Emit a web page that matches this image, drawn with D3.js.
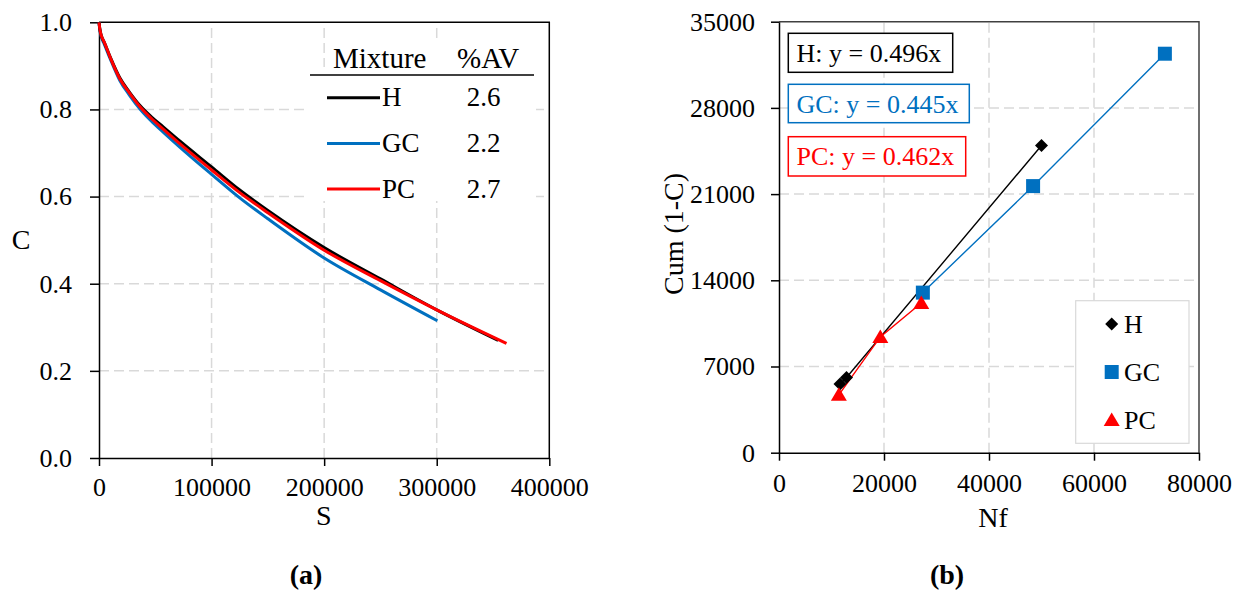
<!DOCTYPE html>
<html><head><meta charset="utf-8">
<script src="https://cdn.jsdelivr.net/npm/d3@7"></script>
<style>body{margin:0;background:#fff}svg{display:block}text{font-family:"Liberation Serif","Times New Roman",serif}</style>
</head><body><svg id="c" width="1243" height="593"></svg>
<script>
// ---- Panel (a) data ----
const hS = [0, 700, 2000, 4700, 10000, 18600, 27000, 36400, 47000, 57000, 72000, 100000, 125000, 150000, 200000, 250000, 300000, 354600];
const hC = [1.000, 0.985, 0.970, 0.954, 0.920, 0.872, 0.840, 0.809, 0.782, 0.760, 0.727, 0.668, 0.615, 0.568, 0.483, 0.411, 0.340, 0.270];
const gcS = [0, 700, 2000, 4700, 10000, 18600, 27000, 36400, 47000, 57000, 72000, 100000, 125000, 150000, 200000, 250000, 300600];
const gcC = [1.000, 0.983, 0.967, 0.950, 0.916, 0.866, 0.833, 0.801, 0.772, 0.748, 0.713, 0.651, 0.597, 0.549, 0.459, 0.386, 0.315];
const pcS = [0, 700, 2000, 4700, 10000, 18600, 27000, 36400, 47000, 57000, 72000, 100000, 125000, 150000, 200000, 250000, 300000, 362000];
const pcC = [1.000, 0.985, 0.970, 0.954, 0.919, 0.870, 0.838, 0.806, 0.778, 0.755, 0.721, 0.661, 0.609, 0.563, 0.477, 0.407, 0.340, 0.263];
const mixtures = ["H", "GC", "PC"];
const avValues = ["2.6", "2.2", "2.7"];
const xTicksA = [0, 100000, 200000, 300000, 400000];
const yTicksA = [0, 0.2, 0.4, 0.6, 0.8, 1.0];

// ---- Panel (b) data ----
const hNf = [11620, 12860, 50000];
const hCum = [5580, 6110, 24950];
const gcNf = [27400, 48400, 73500];
const gcCum = [13000, 21650, 32400];
const pcNf = [11400, 19300, 27100];
const pcCum = [4700, 9400, 12150];
const equations = ["H: y = 0.496x", "GC: y = 0.445x", "PC: y = 0.462x"];
const xTicksB = [0, 20000, 40000, 60000, 80000];
const yTicksB = [0, 7000, 14000, 21000, 28000, 35000];

const colors = {H: "#000000", GC: "#0070C0", PC: "#FF0000"};
const FONT = "Liberation Serif, Times New Roman, serif";
const svg = d3.select("#c");
const zip = (a, b) => a.map((v, i) => [v, b[i]]);

function styleAxis(g) {
  g.attr("font-family", FONT).attr("font-size", 26);
  g.select(".domain").attr("stroke", "#000").attr("stroke-width", 1.5);
  g.selectAll(".tick line").attr("stroke", "#000").attr("stroke-width", 1.5);
  g.selectAll(".tick text").attr("fill", "#000");
}
function grid(xs, ys, xv, yv) {
  const g = svg.append("g").attr("stroke", "#d9d9d9").attr("stroke-width", 1.5).attr("stroke-dasharray", "10,5");
  xv.forEach(v => g.append("line").attr("x1", xs(v)).attr("x2", xs(v)).attr("y1", ys.range()[0]).attr("y2", ys.range()[1]));
  yv.forEach(v => g.append("line").attr("y1", ys(v)).attr("y2", ys(v)).attr("x1", xs.range()[0]).attr("x2", xs.range()[1]));
}

// ================= Panel (a) =================
const xa = d3.scaleLinear().domain([0, 400000]).range([99, 549.3]);
const ya = d3.scaleLinear().domain([0, 1]).range([458, 22.3]);
grid(xa, ya, xTicksA.slice(1, -1), yTicksA.slice(1, -1));
svg.append("path").attr("d", `M${xa(0)},${ya(1)}H${xa(400000)}V${ya(0)}`).attr("fill", "none").attr("stroke", "#000").attr("stroke-width", 1.5);
svg.append("g").attr("transform", `translate(0,${ya(0)})`)
  .call(d3.axisBottom(xa).tickValues(xTicksA).tickSize(8).tickSizeOuter(0).tickPadding(12).tickFormat(d3.format("d")))
  .call(styleAxis);
svg.append("g").attr("transform", `translate(${xa(0)},0)`)
  .call(d3.axisLeft(ya).tickValues(yTicksA).tickSize(9).tickSizeOuter(0).tickPadding(18).tickFormat(d3.format(".1f")))
  .call(styleAxis);

const lineA = d3.line().x(d => xa(d[0])).y(d => ya(d[1])).curve(d3.curveMonotoneX);
[["GC", zip(gcS, gcC)], ["H", zip(hS, hC)], ["PC", zip(pcS, pcC)]].forEach(([k, d]) => {
  svg.append("path").datum(d).attr("d", lineA).attr("fill", "none").attr("stroke", colors[k]).attr("stroke-width", 3).attr("stroke-linejoin", "round");
});

// legend table (a)
svg.append("rect").attr("x", 309).attr("y", 67).attr("width", 227).attr("height", 134).attr("fill", "#fff");
svg.append("rect").attr("x", 328).attr("y", 40).attr("width", 208).attr("height", 28).attr("fill", "#fff");
svg.append("text").attr("x", 333).attr("y", 68).attr("font-size", 29).text("Mixture");
svg.append("text").attr("x", 457).attr("y", 68).attr("font-size", 29).text("%AV");
svg.append("line").attr("x1", 310).attr("x2", 534).attr("y1", 75).attr("y2", 75).attr("stroke", "#000").attr("stroke-width", 1.5);
mixtures.forEach((m, i) => {
  const y = 97.7 + i * 45.7;
  svg.append("line").attr("x1", 327).attr("x2", 380).attr("y1", y).attr("y2", y).attr("stroke", colors[m]).attr("stroke-width", 3);
  svg.append("text").attr("x", 382).attr("y", y + 8.5).attr("font-size", 27).text(m);
  svg.append("text").attr("x", 483.5).attr("y", y + 8.5).attr("font-size", 27).attr("text-anchor", "middle").text(avValues[i]);
});
svg.append("text").attr("x", 323.7).attr("y", 525).attr("font-size", 28).attr("text-anchor", "middle").text("S");
svg.append("text").attr("x", 21).attr("y", 249).attr("font-size", 28).attr("text-anchor", "middle").text("C");
svg.append("text").attr("x", 306).attr("y", 584).attr("font-size", 28).attr("font-weight", "bold").attr("text-anchor", "middle").text("(a)");

// ================= Panel (b) =================
const xb = d3.scaleLinear().domain([0, 80000]).range([779, 1199]);
const yb = d3.scaleLinear().domain([0, 35000]).range([452.7, 21.7]);
grid(xb, yb, xTicksB.slice(1, -1), yTicksB.slice(1, -1));
svg.append("path").attr("d", `M${xb(0)},${yb(35000)}H${xb(80000)}V${yb(0)}`).attr("fill", "none").attr("stroke", "#404040").attr("stroke-width", 1.5);
svg.append("g").attr("transform", `translate(0,${yb(0)})`)
  .call(d3.axisBottom(xb).tickValues(xTicksB).tickSize(8).tickSizeOuter(0).tickPadding(13).tickFormat(d3.format("d")))
  .call(styleAxis);
svg.append("g").attr("transform", `translate(${xb(0)},0)`)
  .call(d3.axisLeft(yb).tickValues(yTicksB).tickSize(8).tickSizeOuter(0).tickPadding(16).tickFormat(d3.format("d")))
  .call(styleAxis);

const lineB = d3.line().x(d => xb(d[0])).y(d => yb(d[1]));
const seriesB = [["H", zip(hNf, hCum)], ["GC", zip(gcNf, gcCum)], ["PC", zip(pcNf, pcCum)]];
seriesB.forEach(([k, d]) => {
  svg.append("path").datum(d).attr("d", lineB).attr("fill", "none").attr("stroke", colors[k]).attr("stroke-width", 1.4);
});
function marker(k, x, y) {
  if (k === "H") return `M${x},${y - 6.5}L${x + 6.5},${y}L${x},${y + 6.5}L${x - 6.5},${y}Z`;
  if (k === "GC") return `M${x - 7},${y - 7}h14v14h-14Z`;
  return `M${x},${y - 7.5}L${x + 8},${y + 6}L${x - 8},${y + 6}Z`;
}
seriesB.forEach(([k, d]) => {
  d.forEach(p => svg.append("path").attr("d", marker(k, xb(p[0]), yb(p[1]))).attr("fill", colors[k]));
});

// equation boxes
const eqBoxes = [[33.3, 164.4, 39], [84.3, 181, 38.4], [136.7, 177.4, 39.3]];
equations.forEach((t, i) => {
  const k = mixtures[i], [y, w, h] = eqBoxes[i];
  svg.append("rect").attr("x", 788.3).attr("y", y).attr("width", w).attr("height", h).attr("fill", "#fff").attr("stroke", colors[k]).attr("stroke-width", 1.5);
  svg.append("text").attr("x", 796.5).attr("y", y + 28.5).attr("font-size", 26).attr("fill", colors[k]).text(t);
});

// legend (b)
svg.append("rect").attr("x", 1075.7).attr("y", 300.7).attr("width", 113.3).attr("height", 142.6).attr("fill", "#fff").attr("stroke", "#d9d9d9").attr("stroke-width", 1.2);
mixtures.forEach((m, i) => {
  const y = 324 + i * 48;
  svg.append("path").attr("d", marker(m, 1111.7, y)).attr("fill", colors[m]);
  svg.append("text").attr("x", 1124).attr("y", y + 8.5).attr("font-size", 26).text(m);
});

svg.append("text").attr("x", 993).attr("y", 526.7).attr("font-size", 28).attr("text-anchor", "middle").text("Nf");
svg.append("text").attr("transform", "translate(683,234) rotate(-90)").attr("font-size", 28).attr("text-anchor", "middle").text("Cum (1-C)");
svg.append("text").attr("x", 947).attr("y", 584).attr("font-size", 28).attr("font-weight", "bold").attr("text-anchor", "middle").text("(b)");
</script></body></html>
